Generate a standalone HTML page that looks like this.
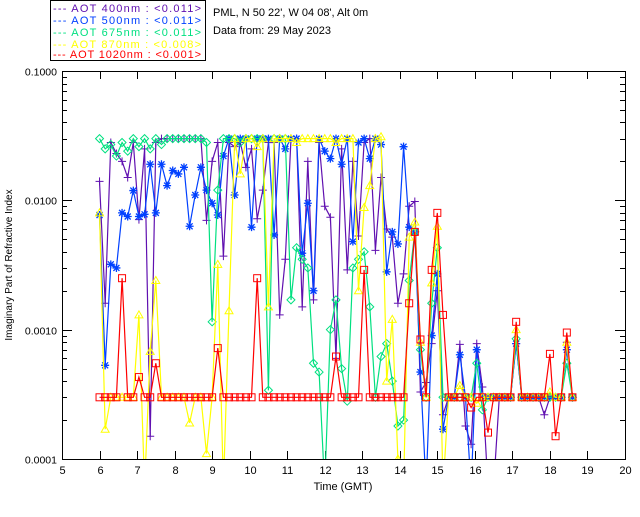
<!DOCTYPE html>
<html><head><meta charset="utf-8">
<style>
body{margin:0;background:#fff;width:640px;height:512px;overflow:hidden;font-family:"Liberation Sans",sans-serif}
svg text{font-family:"Liberation Sans",sans-serif;font-size:11px}
</style></head>
<body>
<svg id="chart" width="640" height="512" viewBox="0 0 640 512">
<defs><clipPath id="pc"><rect x="62" y="71" width="563" height="388"/></clipPath></defs>
<g id="legend" style="white-space:pre" xml:space="preserve">
<rect x="50.5" y="0.5" width="155" height="60" fill="#fff" stroke="#000"/>
<text x="53" y="12" fill="#6010b0" textLength="148">---  AOT   400nm : &lt;0.011&gt;</text>
<text x="53" y="24" fill="#0040ff" textLength="148">---  AOT   500nm : &lt;0.011&gt;</text>
<text x="53" y="36" fill="#00e080" textLength="148">---  AOT   675nm : &lt;0.011&gt;</text>
<text x="53" y="48" fill="#ffff00" textLength="148">---  AOT   870nm : &lt;0.008&gt;</text>
<text x="53" y="58" fill="#ff0000" textLength="148">---  AOT  1020nm : &lt;0.001&gt;</text>
</g>
<text x="213" y="16">PML, N 50 22', W 04 08', Alt 0m</text>
<text x="213" y="34">Data from: 29 May 2023</text>
<g id="axes"></g>
<g id="series" clip-path="url(#pc)"></g>
<text x="343" y="490" text-anchor="middle">Time (GMT)</text>
<text transform="translate(12,265) rotate(-90)" text-anchor="middle" style="font-size:10px">Imaginary Part of Refractive Index</text>
</svg>
<script>
const xTicks=[5,6,7,8,9,10,11,12,13,14,15,16,17,18,19,20];
const yTicks=[0.1,0.01,0.001,0.0001];
const yTickLabels=["0.1000","0.0100","0.0010","0.0001"];
const startTime=6.0, stepHours=0.15, nPoints=85;
const times=[];for(let i=0;i<nPoints;i++)times.push(+(startTime+stepHours*i).toFixed(3));
const v400=[.014,.0016,.028,.023,.02,.015,.028,.0071,.025,.00015,.028,.03,.03,.03,.03,.03,.03,.03,.03,.007,.02,.028,.0037,.028,.026,.028,.018,.025,.0072,.012,.028,.028,.0013,.0035,.03,.03,.0015,.02,.0017,.028,.009,.0074,.0006,.025,.0029,.02,.0053,.028,.03,.0041,.015,.006,.0052,.0016,.0027,.009,.0098,.00033,.00039,.00078,.002,.00022,.0003,.0003,.00077,.00018,.00013,.00078,.00036,.00006,.00006,.0003,.0003,.0003,.00078,.0003,.0003,.0003,.0003,.00022,.0003,.0003,.0003,.0008,.0003];
const v500=[.0077,.00053,.0032,.003,.008,.0075,.0119,.0075,.0078,.019,.008,.019,.013,.017,.016,.018,.0063,.011,.018,.012,.0095,.0077,.022,.03,.011,.03,.03,.0062,.03,.03,.03,.0054,.03,.025,.03,.03,.0039,.0095,.002,.03,.024,.021,.03,.019,.03,.0048,.028,.03,.021,.03,.027,.0028,.0057,.0046,.026,.0062,.0057,.00047,.00006,.0009,.0027,.00017,.0003,.0003,.00064,.0003,.00006,.0007,.0003,.0003,.0003,.0003,.0003,.0003,.00078,.0003,.0003,.0003,.0003,.0003,.0003,.0003,.0003,.0007,.0003];
const v675=[.03,.025,.027,.022,.028,.024,.03,.026,.03,.025,.03,.027,.03,.03,.03,.03,.03,.03,.03,.028,.00115,.012,.03,.03,.03,.028,.03,.03,.03,.03,.00034,.03,.03,.03,.0017,.0043,.0035,.003,.00055,.00047,.00006,.001,.0017,.0005,.00028,.003,.0035,.004,.0015,.0003,.00062,.00078,.0004,.00018,.0002,.0024,.0057,.0007,.0003,.0016,.0043,.0003,.0003,.0003,.0003,.0003,.0003,.00055,.00024,.0003,.0003,.0003,.0003,.0003,.00085,.0003,.0003,.0003,.0003,.0003,.0003,.0003,.0003,.00055,.0003];
const v870=[.008,.00017,.0003,.0003,.0003,.0003,.0003,.0013,.00006,.00068,.0024,.0003,.0003,.0003,.0003,.0003,.00019,.0003,.0003,.00011,.0003,.0032,.00006,.0014,.03,.016,.03,.03,.026,.03,.0015,.03,.03,.03,.03,.028,.03,.03,.03,.03,.03,.03,.028,.03,.03,.03,.002,.0088,.013,.03,.031,.0004,.0012,.0001,.00006,.0052,.0068,.0008,.0003,.0023,.0063,.00006,.0003,.0003,.00037,.0003,.0003,.00027,.0003,.0003,.0003,.0003,.0003,.0003,.001,.0003,.0003,.0003,.0003,.0003,.00033,.0003,.0003,.0008,.0003];
const v1020=[.0003,.0003,.0003,.0003,.0025,.0003,.0003,.00043,.0003,.0003,.00055,.0003,.0003,.0003,.0003,.0003,.0003,.0003,.0003,.0003,.0003,.00072,.0003,.0003,.0003,.0003,.0003,.0003,.0025,.0003,.0003,.0003,.0003,.0003,.0003,.0003,.0003,.0003,.0003,.0003,.0003,.0003,.00062,.0003,.0003,.0003,.0003,.0029,.0003,.0003,.0003,.0003,.0003,.0003,.0003,.0016,.0057,.00084,.0003,.0029,.008,.0013,.0003,.0003,.0003,.0003,.00025,.0003,.0003,.00016,.0003,.0003,.0003,.0003,.00115,.0003,.0003,.0003,.0003,.0003,.00065,.00015,.0003,.00095,.0003];

const X0=62,X1=625,Y0=71,Y1=459;
const xs=t=>X0+(t-5)*(X1-X0)/15;
const ys=v=>Y1-(Math.log10(v)+4)*(Y1-Y0)/3;
const NS="http://www.w3.org/2000/svg";
function mk(tag,attrs,parent){const e=document.createElementNS(NS,tag);for(const k in attrs)e.setAttribute(k,attrs[k]);parent.appendChild(e);return e;}
const ax=document.getElementById('axes');
const frame=mk('rect',{x:X0+.5,y:Y0+.5,width:X1-X0,height:Y1-Y0,fill:'none',stroke:'#000'},ax);


xTicks.forEach(t=>{const x=Math.round(xs(t))+.5;
 mk('line',{x1:x,x2:x,y1:Y1,y2:Y1-8,stroke:'#000'},ax);
 mk('line',{x1:x,x2:x,y1:Y0,y2:Y0+8,stroke:'#000'},ax);
 const lb=mk('text',{x:x,y:Y1+15,'text-anchor':'middle'},ax);lb.textContent=t;
 
 
});
yTicks.forEach((v,i)=>{const y=Math.round(ys(v))+.5;
 mk('line',{x1:X0,x2:X0+10,y1:y,y2:y,stroke:'#000'},ax);
 mk('line',{x1:X1-10,x2:X1,y1:y,y2:y,stroke:'#000'},ax);
 const lb=mk('text',{x:X0-5,y:y+4,'text-anchor':'end',style:'font-size:10.5px'},ax);lb.textContent=yTickLabels[i];
 
 
 if(i>0){for(let m=2;m<10;m++){const ym=Math.round(ys(v*m))+.5;
  mk('line',{x1:X0,x2:X0+5,y1:ym,y2:ym,stroke:'#000'},ax);
  mk('line',{x1:X1-5,x2:X1,y1:ym,y2:ym,stroke:'#000'},ax);}}
});
const sg=document.getElementById('series');
function marker(g,kind,x,y,c){
 if(kind==='plus'){mk('path',{d:`M${x-4} ${y}H${x+4}M${x} ${y-4}V${y+4}`,stroke:c,fill:'none'},g);}
 else if(kind==='star'){mk('path',{d:`M${x-4} ${y}H${x+4}M${x} ${y-4}V${y+4}M${x-3} ${y-3}L${x+3} ${y+3}M${x-3} ${y+3}L${x+3} ${y-3}`,stroke:c,'stroke-width':1.3,fill:'none'},g);}
 else if(kind==='diamond'){mk('path',{d:`M${x} ${y-4}L${x+4} ${y}L${x} ${y+4}L${x-4} ${y}Z`,stroke:c,fill:'none'},g);}
 else if(kind==='tri'){mk('path',{d:`M${x} ${y-4}L${x+4} ${y+3}L${x-4} ${y+3}Z`,stroke:c,fill:'none'},g);}
 else {mk('rect',{x:x-3.5,y:y-3.5,width:7,height:7,stroke:c,fill:'none'},g);}
}
const seriesDefs=[['series-400nm',v400,'#6010b0','plus'],['series-500nm',v500,'#0040ff','star'],['series-675nm',v675,'#00e080','diamond'],['series-870nm',v870,'#ffff00','tri'],['series-1020nm',v1020,'#ff0000','square']];
seriesDefs.forEach(([name,vals,col,kind])=>{
 const g=mk('g',{},sg);
 
 
 const n=Math.min(vals.length,times.length);
 let d='';for(let i=0;i<n;i++)d+=(i?'L':'M')+xs(times[i]).toFixed(1)+' '+ys(vals[i]).toFixed(1);
 mk('path',{d:d,stroke:col,fill:'none','stroke-width':1.2},g);
 for(let i=0;i<n;i++)marker(g,kind,xs(times[i]),ys(vals[i]),col);
});
</script>
</body></html>
